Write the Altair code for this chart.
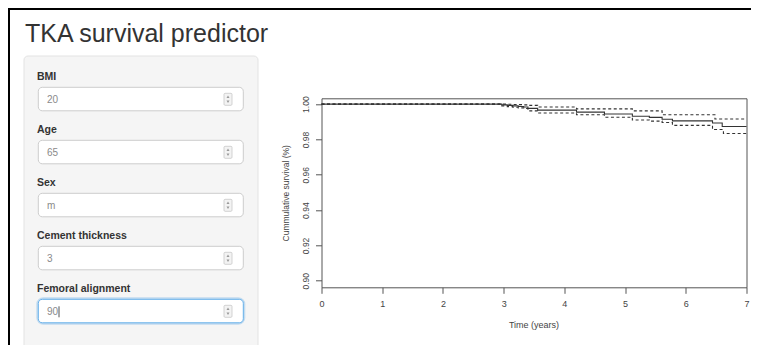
import altair as alt
import pandas as pd

# ---------------- data ----------------
surv_time = [0, 2.97, 3.06, 3.15, 3.24, 3.33, 3.40, 3.56, 4.20, 4.66, 5.12, 5.40, 5.61, 5.78, 6.44, 6.60, 7.0]
surv_val = [1.0, 0.9996, 0.9993, 0.9990, 0.9987, 0.9984, 0.9976, 0.9966, 0.9955, 0.9944, 0.9931, 0.9925, 0.9914, 0.9905, 0.9893, 0.9873, 0.9873]

upper_time = [0, 2.97, 3.06, 3.15, 3.24, 3.33, 3.40, 3.56, 4.20, 5.12, 5.61, 6.48, 7.0]
upper_val = [1.0, 1.0, 0.9999, 0.9998, 0.9997, 0.9996, 0.9993, 0.9984, 0.9973, 0.9962, 0.9940, 0.9916, 0.9916]

lower_time = [0, 2.97, 3.06, 3.15, 3.24, 3.33, 3.40, 3.56, 4.20, 4.66, 5.12, 5.40, 5.61, 5.78, 6.44, 6.62, 7.0]
lower_val = [1.0, 0.9990, 0.9986, 0.9982, 0.9979, 0.9975, 0.9962, 0.9950, 0.9940, 0.9926, 0.9910, 0.9904, 0.9896, 0.9880, 0.9856, 0.9834, 0.9834]

x_ticks = [0, 1, 2, 3, 4, 5, 6, 7]
y_ticks = [0.90, 0.92, 0.94, 0.96, 0.98, 1.00]

app_title = "TKA survival predictor"
field_labels = ["BMI", "Age", "Sex", "Cement thickness", "Femoral alignment"]
field_values = ["20", "65", "m", "3", "90"]

# ---------------- layout helpers (page px -> view px) ----------------
VX0, VY0 = 321.5, 98.3
W, H = 425, 189
PAD_L, PAD_T = VX0 - 8, VY0 - 8
PAD_R = 743 - PAD_L - W
PAD_B = 337 - PAD_T - H
FONT = "Liberation Sans"


def px(x):
    return x - VX0


def py(y):
    return y - VY0


dummy = alt.Chart(pd.DataFrame({"a": [0]}))
layers = []

# outer frame of the screenshot (thin filled rects)
layers.append(dummy.mark_rect(fill="black", strokeWidth=0).encode(
    x=alt.value(px(8)), x2=alt.value(px(10)), y=alt.value(py(8)), y2=alt.value(py(346))))
layers.append(dummy.mark_rect(fill="black", strokeWidth=0).encode(
    x=alt.value(px(8)), x2=alt.value(px(751)), y=alt.value(py(8)), y2=alt.value(py(10))))

# app title
layers.append(dummy.mark_text(text=app_title, fontSize=25, font=FONT, color="#333",
                              align="left", baseline="alphabetic").encode(
    x=alt.value(px(25)), y=alt.value(py(42.3))))

# side panel
layers.append(dummy.mark_rect(fill="#f5f5f5", stroke="#e3e3e3", cornerRadius=4).encode(
    x=alt.value(px(24)), x2=alt.value(px(258)), y=alt.value(py(56)), y2=alt.value(py(350))))

for i, (lab, val) in enumerate(zip(field_labels, field_values)):
    top = 87.3 + 53 * i
    focused = i == len(field_labels) - 1
    layers.append(dummy.mark_text(text=lab, fontSize=10.5, fontWeight="bold", font=FONT,
                                  color="#333", align="left", baseline="alphabetic").encode(
        x=alt.value(px(37)), y=alt.value(py(top - 7.3))))
    if focused:
        layers.append(dummy.mark_rect(fill="white", stroke="#66afe9", strokeOpacity=0.35,
                                      strokeWidth=4, cornerRadius=5).encode(
            x=alt.value(px(38.3)), x2=alt.value(px(243.3)),
            y=alt.value(py(top)), y2=alt.value(py(top + 23.5))))
    layers.append(dummy.mark_rect(fill="white", stroke="#66afe9" if focused else "#cccccc",
                                  strokeWidth=1, cornerRadius=4).encode(
        x=alt.value(px(38.3)), x2=alt.value(px(243.3)),
        y=alt.value(py(top)), y2=alt.value(py(top + 23.5))))
    layers.append(dummy.mark_text(text=val, fontSize=10, font=FONT, color="#8a8a8a",
                                  align="left", baseline="alphabetic").encode(
        x=alt.value(px(47)), y=alt.value(py(top + 16))))
    if focused:
        layers.append(dummy.mark_rule(color="#555", strokeWidth=1).encode(
            x=alt.value(px(59)), y=alt.value(py(top + 7)), y2=alt.value(py(top + 18))))
    # spinner
    layers.append(dummy.mark_rect(fill="#f3f3f3", stroke="#c8c8c8", strokeWidth=0.8,
                                  cornerRadius=1).encode(
        x=alt.value(px(224)), x2=alt.value(px(232)),
        y=alt.value(py(top + 6)), y2=alt.value(py(top + 18))))
    layers.append(dummy.mark_point(shape="triangle-up", filled=True, size=9, color="#999",
                                   opacity=1).encode(
        x=alt.value(px(228)), y=alt.value(py(top + 9.5))))
    layers.append(dummy.mark_point(shape="triangle-down", filled=True, size=9, color="#999",
                                   opacity=1).encode(
        x=alt.value(px(228)), y=alt.value(py(top + 14.5))))

# ---------------- survival plot ----------------
xscale = alt.Scale(domain=[0, 7], nice=False, zero=False)
yscale = alt.Scale(domain=[0.8963, 1.0033], nice=False, zero=False)

xaxis = alt.Axis(values=x_ticks, format="d", tickSize=6, tickColor="#555", domain=False,
                 grid=False, labelFontSize=9, labelFont=FONT, labelColor="#444",
                 labelPadding=6, labelFlush=False, labelOverlap=False,
                 title="Time (years)", titleFont=FONT, titleFontSize=9,
                 titleFontWeight="normal", titleColor="#444",
                 titleX=212, titleY=37, titleAlign="center", titleBaseline="middle")
yaxis = alt.Axis(values=y_ticks, format=".2f", tickSize=6, tickColor="#555", domain=False,
                 grid=False, labelFontSize=8.5, labelFont=FONT, labelColor="#444",
                 labelAngle=270, labelAlign="center", labelBaseline="bottom",
                 labelPadding=5, labelFlush=False, labelOverlap=False,
                 title="Cummulative survival (%)", titleFont=FONT, titleFontSize=8.5,
                 titleFontWeight="normal", titleColor="#444", titleAngle=270,
                 titleX=-36.5, titleY=H / 2, titleAlign="center", titleBaseline="middle")


def curve(times, vals, dash):
    df = pd.DataFrame({"time": times, "surv": vals})
    return alt.Chart(df).mark_line(interpolate="step-after", color="#333",
                                   strokeWidth=1.1, strokeDash=dash).encode(
        x=alt.X("time:Q", scale=xscale, axis=xaxis),
        y=alt.Y("surv:Q", scale=yscale, axis=yaxis),
    )


layers.append(curve(upper_time, upper_val, [3, 2.5]))
layers.append(curve(lower_time, lower_val, [3, 2.5]))
layers.append(curve(surv_time, surv_val, [1, 0]))

chart = alt.layer(*layers).properties(
    width=W, height=H,
    autosize=alt.AutoSizeParams(type="none"),
    padding={"left": PAD_L, "top": PAD_T, "right": PAD_R, "bottom": PAD_B},
    background="white",
).configure_view(stroke="#555", strokeWidth=1)

chart.save("out.html", embed_options={"renderer": "svg", "actions": False})
